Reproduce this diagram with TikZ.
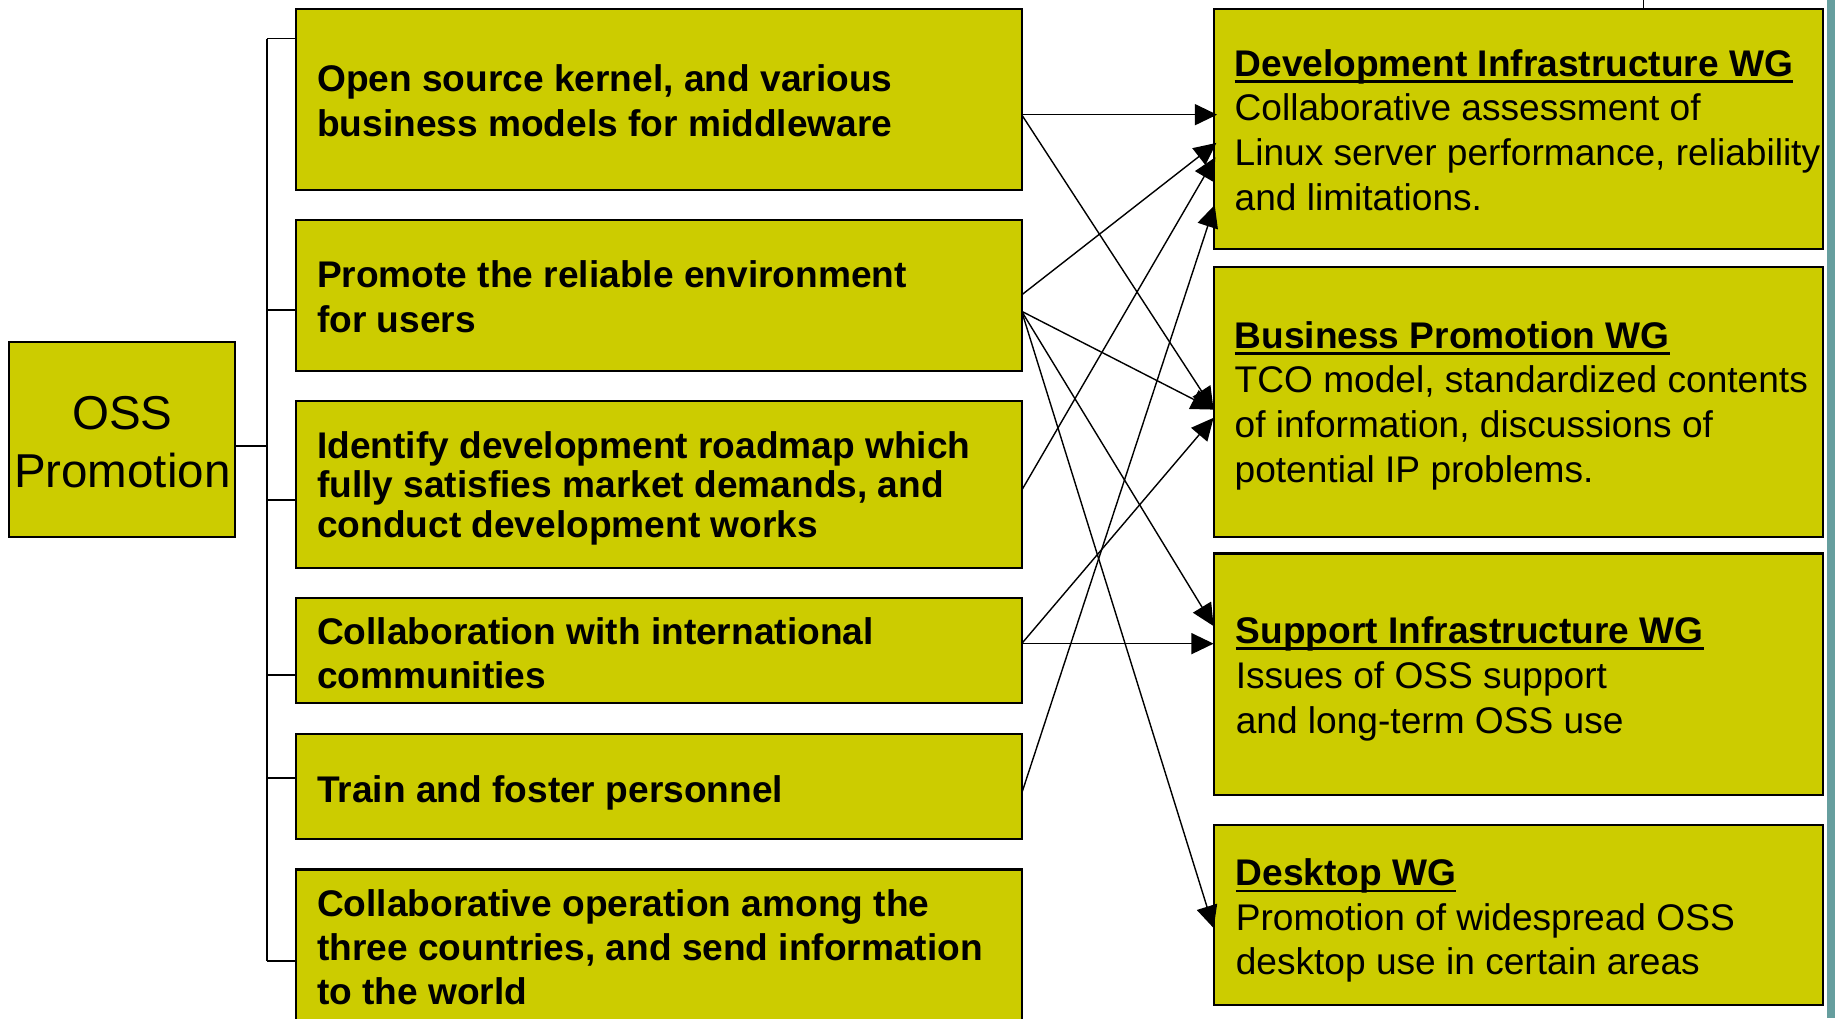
\documentclass[tikz,border=0pt]{standalone}
\usepackage{fontspec}
\setmainfont{Liberation Sans}
\usetikzlibrary{arrows.meta}
\definecolor{boxfill}{RGB}{204,204,0}
\definecolor{bandcol}{RGB}{102,158,158}
\newcommand{\ttl}[1]{{\bfseries\setbox0=\hbox{#1}\rlap{\rule[-2.8pt]{\wd0}{1pt}}\box0}}
\begin{document}
\begin{tikzpicture}[x=0.5pt,y=-0.5pt,
  box/.style={draw=black, line width=0.9pt, fill=boxfill, rectangle, inner sep=0pt, outer sep=0pt},
  ltext/.style={anchor=north west, inner sep=0pt, outer sep=0pt, align=left},
  tree/.style={draw=black, line width=0.7pt},
  arr/.style={draw=black, line width=0.6pt, -{Triangle[length=9.5pt,width=9pt]}},
  arrdev/.style={arr, shorten >=-1.5pt}]
\clip (0,0) rectangle (1568,870);
\fill[white] (0,0) rectangle (1568,870);
% right-edge band and top line
\fill[bandcol] (1561,0) rectangle (1568,870);
% boxes
\node[box, minimum width=96.5pt, minimum height=83.5pt] (oss) at (104.5,375.5) {};
\node[box, minimum width=310pt, minimum height=77pt] (b1) at (563,85) {};
\node[box, minimum width=310pt, minimum height=64.5pt] (b2) at (563,252.5) {};
\node[box, minimum width=310pt, minimum height=71pt] (b3) at (563,414) {};
\node[box, minimum width=310pt, minimum height=45pt] (b4) at (563,556) {};
\node[box, minimum width=310pt, minimum height=45pt] (b5) at (563,672) {};
\node[box, minimum width=310pt, minimum height=78.5pt] (b6) at (563,821.5) {};
\node[box, minimum width=260.5pt, minimum height=102.5pt] (w1) at (1297.5,110.5) {};
\node[box, minimum width=260.5pt, minimum height=115.5pt] (w2) at (1297.5,343.5) {};
\node[box, minimum width=260.5pt, minimum height=103pt] (w3) at (1297.5,576) {};
\node[box, minimum width=260.5pt, minimum height=77pt] (w4) at (1297.5,782) {};
\coordinate (tp) at (1404,0);
\draw[draw=black, line width=0.5pt] (tp) -- (tp |- w1.north);
% texts
\node[anchor=north, inner sep=0pt, align=center, font=\fontsize{20.3}{24.75}\selectfont] (osst) at (104.5,335) {\rule{0pt}{16pt}OSS\\Promotion};
\node[ltext, font=\fontsize{15.85}{19}\selectfont\bfseries] (t1) at (271,54.5) {\rule{0pt}{12pt}Open source kernel, and various\\business models for middleware};
\node[ltext, font=\fontsize{15.85}{19.5}\selectfont\bfseries] (t2) at (271,221.5) {\rule{0pt}{12pt}Promote the reliable environment\\for users};
\node[ltext, font=\fontsize{15.85}{17}\selectfont\bfseries] (t3) at (271,367.5) {\rule{0pt}{12pt}Identify development roadmap which\\fully satisfies market demands, and\\conduct development works};
\node[ltext, font=\fontsize{15.85}{19}\selectfont\bfseries] (t4) at (271,526.5) {\rule{0pt}{12pt}Collaboration with international\\communities};
\node[ltext, font=\fontsize{15.85}{19}\selectfont\bfseries] (t5) at (271,661.5) {\rule{0pt}{12pt}Train and foster personnel};
\node[ltext, font=\fontsize{15.85}{18.75}\selectfont\bfseries] (t6) at (271,759.5) {\rule{0pt}{12pt}Collaborative operation among the\\three countries, and send information\\to the world};
\node[ltext, font=\fontsize{15.85}{19.1}\selectfont] (u1) at (1055,41) {\rule{0pt}{12pt}\ttl{Development Infrastructure WG}\\Collaborative assessment of\\Linux server performance, reliability\\and limitations.};
\node[ltext, font=\fontsize{15.85}{19.1}\selectfont] (u2) at (1055,273.5) {\rule{0pt}{12pt}\ttl{Business Promotion WG}\\TCO model, standardized contents\\of information, discussions of\\potential IP problems.};
\node[ltext, font=\fontsize{15.85}{19.25}\selectfont] (u3) at (1056,525.5) {\rule{0pt}{12pt}\ttl{Support Infrastructure WG}\\Issues of OSS support\\and long-term OSS use};
\node[ltext, font=\fontsize{15.85}{19.1}\selectfont] (u4) at (1056,732.5) {\rule{0pt}{12pt}\ttl{Desktop WG}\\Promotion of widespread OSS\\desktop use in certain areas};
% tree connectors
\coordinate (j0) at (228,381);
\coordinate (j1) at (228,33);
\coordinate (j2) at (228,265);
\coordinate (j3) at (228,427);
\coordinate (j4) at (228,577);
\coordinate (j5) at (228,665);
\coordinate (j6) at (228,821);
\draw[tree] (j1) -- (j6);
\draw[tree] (oss.east |- j0) -- (j0);
\draw[tree] (j1) -- (b1.west |- j1);
\draw[tree] (j2) -- (b2.west |- j2);
\draw[tree] (j3) -- (b3.west |- j3);
\draw[tree] (j4) -- (b4.west |- j4);
\draw[tree] (j5) -- (b5.west |- j5);
\draw[tree] (j6) -- (b6.west |- j6);
% arrows
\draw[arrdev] (b1.east |- 0,98) -- (w1.west |- 0,98);
\draw[arr] (b1.east |- 0,98) -- (w2.west |- 0,350);
\draw[arrdev] (b2.east |- 0,252) -- (w1.west |- 0,124);
\draw[arr] (b2.east |- 0,266) -- (w2.west |- 0,350);
\draw[arr] (b2.east |- 0,266) -- (w3.west |- 0,535);
\draw[arr] (b2.east |- 0,266) -- (w4.west |- 0,793);
\draw[arrdev] (b3.east |- 0,419) -- (w1.west |- 0,137);
\draw[arr] (b4.east |- 0,550) -- (w2.west |- 0,357);
\draw[arr] (b4.east |- 0,550) -- (w3.west |- 0,550);
\draw[arrdev] (b5.east |- 0,678) -- (w1.west |- 0,178);
\end{tikzpicture}
\end{document}
